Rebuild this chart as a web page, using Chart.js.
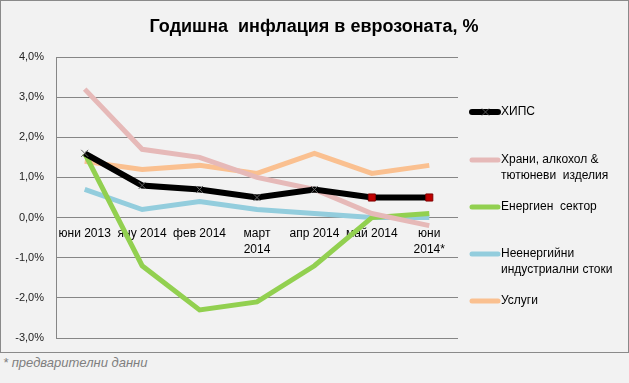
<!DOCTYPE html>
<html><head><meta charset="utf-8">
<script src="https://cdn.jsdelivr.net/npm/chart.js@4/dist/chart.umd.min.js"></script>
<style>
html,body{margin:0;padding:0;background:#f2f2f2;}
#wrap{position:absolute;left:0;top:0;width:627px;height:351px;border:1px solid #8a8a8a;}
#foot{position:absolute;left:3px;top:355px;font:italic 13px "Liberation Sans",sans-serif;color:#7f7f7f;}
</style></head><body>
<div id="wrap"><canvas id="c" width="627" height="351"></canvas></div>
<div id="foot">* предварителни данни</div>
<script>
const categories = [['юни 2013'],['яну 2014'],['фев 2014'],['март','2014'],['апр 2014'],['май 2014'],['юни','2014*']];
const seriesNames = ['ХИПС', ['Храни, алкохол &','тютюневи  изделия'], 'Енергиен  сектор', ['Неенергийни','индустриални стоки'], 'Услуги'];
const hicp = [1.6, 0.8, 0.7, 0.5, 0.7, 0.5, 0.5];
const food = [3.2, 1.7, 1.5, 1.0, 0.7, 0.1, -0.2];
const energy = [1.6, -1.2, -2.3, -2.1, -1.2, 0.0, 0.1];
const nonEnergy = [0.7, 0.2, 0.4, 0.2, 0.1, 0.0, 0.0];
const services = [1.4, 1.2, 1.3, 1.1, 1.6, 1.1, 1.3];
const yTicks = [-3, -2, -1, 0, 1, 2, 3, 4];
const title = 'Годишна  инфлация в еврозоната, %';

const colors = ['#000000', '#e6b9b8', '#92d050', '#93cddd', '#fac090'];
const legendY = [111, 159, 206, 253, 300];

const overlay = {
  id: 'overlay',
  afterDraw(chart) {
    const ctx = chart.ctx;
    ctx.save();
    ctx.fillStyle = '#000';
    ctx.font = 'bold 18px "Liberation Sans", sans-serif';
    ctx.textAlign = 'center';
    ctx.textBaseline = 'middle';
    ctx.fillText(title, 313, 26);
    ctx.font = '12px "Liberation Sans", sans-serif';
    ctx.textAlign = 'left';
    chart.data.datasets.forEach((ds, i) => {
      const y = legendY[i];
      ctx.strokeStyle = ds.borderColor;
      ctx.lineWidth = ds.borderWidth;
      ctx.lineCap = 'round';
      ctx.beginPath(); ctx.moveTo(471, y); ctx.lineTo(497, y); ctx.stroke();
      if (i === 0) {
        ctx.strokeStyle = '#555'; ctx.lineWidth = 1; ctx.lineCap = 'butt';
        ctx.beginPath();
        ctx.moveTo(481, y - 3.5); ctx.lineTo(488, y + 3.5);
        ctx.moveTo(488, y - 3.5); ctx.lineTo(481, y + 3.5);
        ctx.stroke();
      }
      const lines = Array.isArray(seriesNames[i]) ? seriesNames[i] : [seriesNames[i]];
      ctx.fillStyle = '#000';
      lines.forEach((t, k) => ctx.fillText(t, 500, y + k * 16));
    });
    ctx.restore();
  }
};

const hicpStyles = hicp.map((v, i) => i >= 5 ? 'rect' : 'crossRot');
new Chart(document.getElementById('c'), {
  type: 'line',
  data: {
    labels: categories,
    datasets: [
      { label: 'ХИПС', data: hicp, borderColor: colors[0], borderWidth: 6, tension: 0,
        pointStyle: hicpStyles,
        pointRadius: 5,
        pointBorderColor: hicp.map((v, i) => i >= 5 ? '#7f0000' : '#666'),
        pointBackgroundColor: '#c00000', pointBorderWidth: 1 },
      { label: 'Храни', data: food, borderColor: colors[1], borderWidth: 5, tension: 0, pointRadius: 0 },
      { label: 'Енергиен', data: energy, borderColor: colors[2], borderWidth: 5, tension: 0, pointRadius: 0 },
      { label: 'Неенергийни', data: nonEnergy, borderColor: colors[3], borderWidth: 5, tension: 0, pointRadius: 0 },
      { label: 'Услуги', data: services, borderColor: colors[4], borderWidth: 5, tension: 0, pointRadius: 0 }
    ]
  },
  options: {
    responsive: false, animation: false,
    layout: { padding: { left: 0, top: 56, right: 170, bottom: 14 } },
    plugins: { legend: { display: false }, tooltip: { enabled: false }, title: { display: false } },
    scales: {
      x: {
        position: { y: 0 }, offset: true,
        grid: { display: false }, border: { display: false },
        afterFit(s) { s.paddingTop = 0; s.paddingBottom = 0; },
        ticks: { autoSkip: false, maxRotation: 0, padding: 0, color: '#000',
          font: { family: '"Liberation Sans", sans-serif', size: 12, lineHeight: 1.35 } }
      },
      y: {
        min: -3, max: 4,
        afterFit(s) { s.width = 55; s.paddingTop = 0; s.paddingBottom = 0; },
        afterBuildTicks(s) { s.ticks = yTicks.map(v => ({ value: v })); },
        grid: { color: '#868686', drawTicks: false },
        border: { color: '#868686' },
        ticks: { padding: 12, color: '#222',
          font: { family: '"Liberation Sans", sans-serif', size: 11 },
          callback: v => v.toFixed(1).replace('.', ',') + '%' }
      }
    }
  },
  plugins: [overlay]
});
</script>
</body></html>
